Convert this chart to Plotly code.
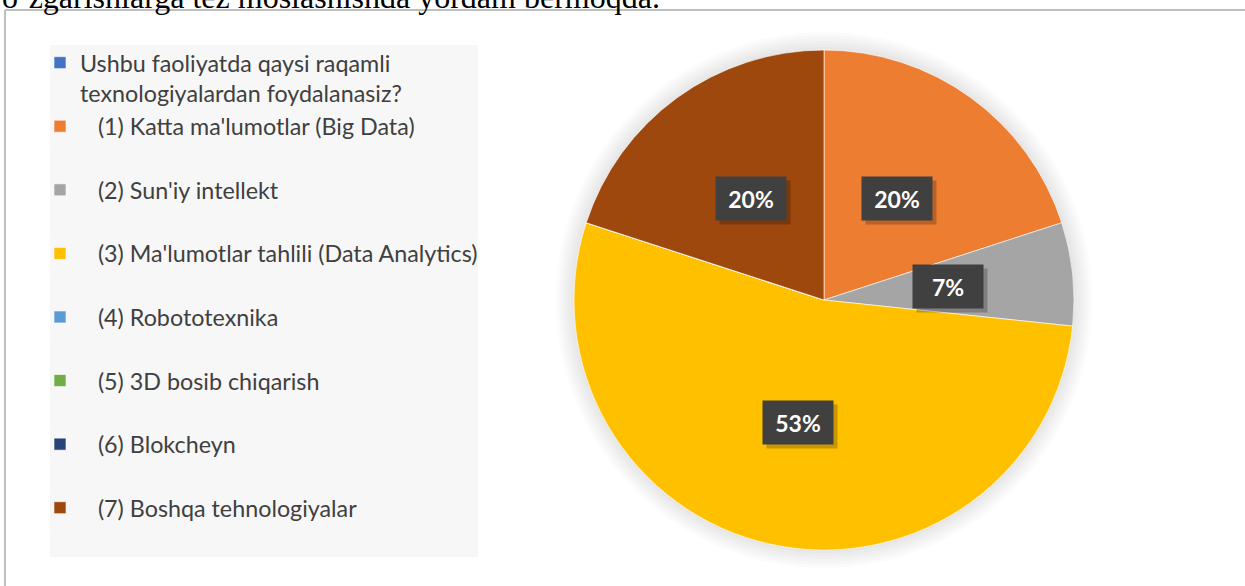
import math
import plotly.graph_objects as go

# --- data -------------------------------------------------------------
labels = [
    "Ushbu faoliyatda qaysi raqamli<br>texnologiyalardan foydalanasiz?",
    "(1) Katta ma'lumotlar (Big Data)",
    "(2) Sun'iy intellekt",
    "(3) Ma'lumotlar tahlili (Data Analytics)",
    "(4) Robototexnika",
    "(5) 3D bosib chiqarish",
    "(6) Blokcheyn",
    "(7) Boshqa tehnologiyalar",
]
values = [0, 3, 1, 8, 0, 0, 0, 3]
colors = ["#4472C4", "#ED7D31", "#A5A5A5", "#FFC000",
          "#5B9BD5", "#70AD47", "#264478", "#9E480E"]
caption = "o‘zgarishlarga tez moslashishda yordam bermoqda."

# --- geometry (pixels) ------------------------------------------------
W, H = 1245, 586
CX, CY, R = 824, 300, 250


def px(x):
    return x / W


def py(y):
    return 1 - y / H


# legend entries: the question header stays flush, the options are indented
indent = "\u00a0" * 3
legend_labels = [labels[0]] + [indent + t + "<br>\u00a0" for t in labels[1:]]

fig = go.Figure()
fig.add_trace(go.Pie(
    labels=legend_labels,
    values=values,
    sort=False,
    direction="clockwise",
    rotation=0,
    marker=dict(colors=colors, line=dict(color="rgba(255,255,255,0.6)", width=1)),
    textinfo="none",
    hoverinfo="skip",
    domain=dict(x=[px(CX - R), px(CX + R)], y=[py(CY + R), py(CY - R)]),
))

shapes = []
# soft halo round the pie
for k in range(18, 0, -3):
    shapes.append(dict(
        type="circle", xref="paper", yref="paper", layer="below",
        x0=px(CX - R - k), x1=px(CX + R + k),
        y0=py(CY + R + k), y1=py(CY - R - k),
        fillcolor="rgba(0,0,0,0.015)", line=dict(width=0),
    ))
# legend panel
shapes.append(dict(
    type="rect", xref="paper", yref="paper", layer="below",
    x0=px(50), x1=px(478), y0=py(557), y1=py(45),
    fillcolor="#F7F7F7", line=dict(width=0),
))
# chart frame
shapes.append(dict(type="line", xref="paper", yref="paper",
                   x0=px(5), x1=1.0, y0=py(10), y1=py(10),
                   line=dict(color="#BFBFBF", width=2)))
shapes.append(dict(type="line", xref="paper", yref="paper",
                   x0=px(5), x1=px(5), y0=py(10), y1=0.0,
                   line=dict(color="#BFBFBF", width=2)))

annotations = [dict(
    text=caption, xref="paper", yref="paper", x=0, y=py(17),
    xanchor="left", yanchor="bottom", showarrow=False,
    font=dict(family="Liberation Serif", size=32, color="#000000"),
)]

# percentage labels inside each slice
total = sum(values)
cum = 0
for v in values:
    start = cum
    cum += v
    if v == 0:
        continue
    mid = 2 * math.pi * (start + v / 2) / total
    lx = CX + 0.5 * R * math.sin(mid)
    ly = CY - 0.5 * R * math.cos(mid)
    pct = f"{round(100 * v / total)}%"
    annotations.append(dict(
        text=" ", xref="paper", yref="paper", x=px(lx + 4), y=py(ly + 4),
        xanchor="center", yanchor="middle",
        showarrow=False, width=68, height=41, bgcolor="rgba(0,0,0,0.22)",
        font=dict(size=22),
    ))
    annotations.append(dict(
        text=f"<b>{pct}</b>", xref="paper", yref="paper", x=px(lx), y=py(ly),
        xanchor="center", yanchor="middle",
        showarrow=False, width=68, height=41, bgcolor="#404040",
        font=dict(family="Lato", size=23, color="#FFFFFF"),
    ))

fig.update_layout(
    width=W, height=H,
    margin=dict(l=0, r=0, t=0, b=0),
    paper_bgcolor="#FFFFFF",
    plot_bgcolor="#FFFFFF",
    showlegend=True,
    legend=dict(
        x=px(40), y=py(41), xanchor="left", yanchor="top",
        bgcolor="rgba(0,0,0,0)", valign="top", traceorder="normal",
        font=dict(family="Lato", size=23.3, color="#404040"),
    ),
    shapes=shapes,
    annotations=annotations,
)

fig.write_html("out.html")
